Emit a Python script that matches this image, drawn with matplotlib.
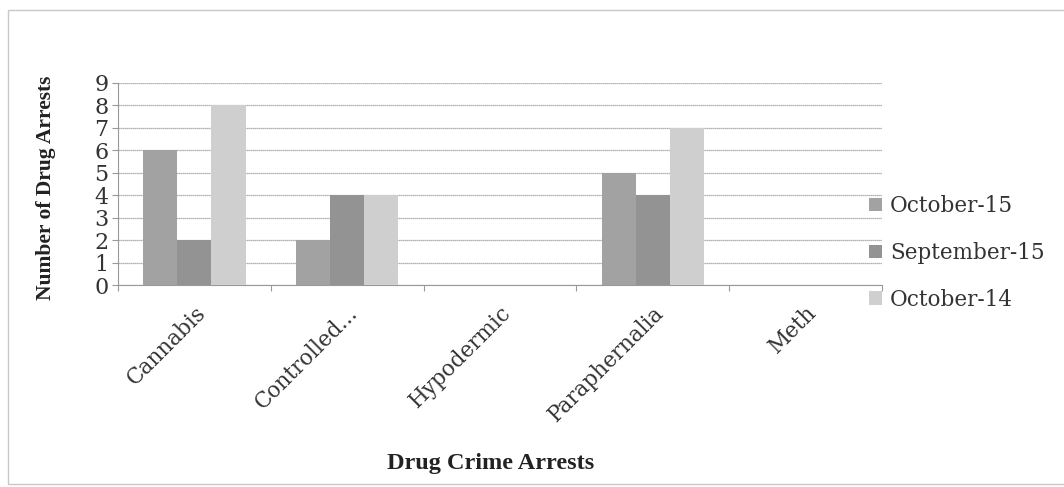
import matplotlib
matplotlib.use("Agg")
import matplotlib.pyplot as plt
from matplotlib.patches import Rectangle
import numpy as np

categories = ["Cannabis", "Controlled...", "Hypodermic", "Paraphernalia", "Meth"]
series_names = ["October-15", "September-15", "October-14"]
october_15 = [6, 2, 0, 5, 0]
september_15 = [2, 4, 0, 4, 0]
october_14 = [8, 4, 0, 7, 0]
y_ticks = list(range(0, 10))

colors = ["#a2a2a2", "#939393", "#cfcfcf"]
label_font = ["DejaVu Serif"]
title_font = ["Liberation Serif", "DejaVu Serif"]

W, H = 1064, 487
fig = plt.figure(figsize=(W / 100, H / 100), dpi=100)
fig.patch.set_facecolor("white")

# outer chart frame
fig.add_artist(Rectangle((8 / W, 1 - 484 / H), (1070 - 8) / W, (484 - 10) / H,
                         transform=fig.transFigure, fill=False,
                         edgecolor="#c8c8c8", linewidth=1.0))

left, right, top, bottom = 118, 882, 83, 285
ax = fig.add_axes([left / W, 1 - bottom / H, (right - left) / W, (bottom - top) / H])

x = np.arange(len(categories))
bw = 0.2237
for i, (vals, c, name) in enumerate(zip([october_15, september_15, october_14], colors, series_names)):
    ax.bar(x + (i - 1) * bw, vals, width=bw, color=c, label=name, zorder=3, linewidth=0)

ax.set_xlim(-0.5, len(categories) - 0.5)
ax.set_ylim(0, 9)
ax.set_yticks(y_ticks)
ax.set_yticklabels([str(v) for v in y_ticks], fontsize=16, family=label_font, color="#333333")
ax.yaxis.grid(True, color="#9a9a9a", linestyle=(0, (1, 0.6)), linewidth=0.9, zorder=0)
ax.set_axisbelow(True)

ax.set_xticks(np.arange(-0.5, len(categories) - 0.4, 1.0), minor=False)
ax.set_xticklabels([])
ax.set_xticks(x, minor=True)
ax.set_xticklabels(categories, minor=True, rotation=45, ha="right",
                   rotation_mode="anchor", fontsize=15.5, family=label_font, color="#333333")
ax.tick_params(axis="x", which="minor", length=0, pad=12)
ax.tick_params(axis="x", which="major", length=4, color="#999999", direction="out")
ax.tick_params(axis="y", length=4, color="#999999", direction="out", pad=3)

for s in ["top", "right"]:
    ax.spines[s].set_visible(False)
ax.spines["left"].set_color("#999999")
ax.spines["bottom"].set_color("#999999")

fig.text(46 / W, 1 - 188 / H, "Number of Drug Arrests", rotation=90, ha="center", va="center",
         fontsize=15.5, fontweight="bold", family=title_font, color="#222222")
fig.text(491 / W, 1 - 463 / H, "Drug Crime Arrests", ha="center", va="center",
         fontsize=17.5, fontweight="bold", family=title_font, color="#222222")

leg = ax.legend(loc="center left", bbox_to_anchor=(860 / W, 1 - 253 / H),
                bbox_transform=fig.transFigure, frameon=False,
                prop={"family": label_font, "size": 15.5}, handlelength=0.6, handleheight=0.6,
                handletextpad=0.4, labelspacing=1.15, borderaxespad=0)
for t in leg.get_texts():
    t.set_color("#333333")

fig.savefig("out.png", dpi=100, facecolor="white")
